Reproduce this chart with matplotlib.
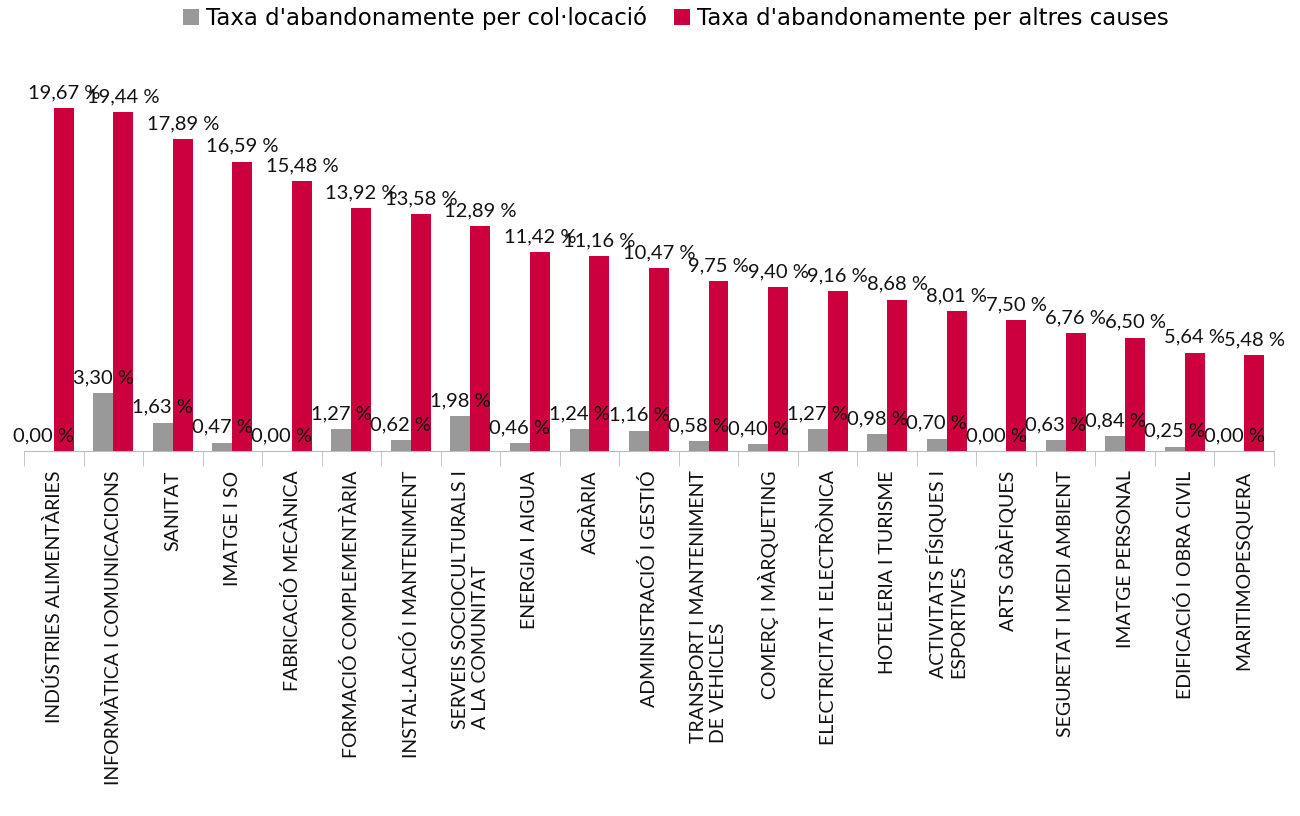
#-------------------------------------------------------------------------------
# Taxa d'abandonament per família professional - bar chart
#-------------------------------------------------------------------------------
import matplotlib
matplotlib.use("Agg")
import matplotlib.pyplot as plt
import numpy as np

#-------------------------------------------------------------------------------
# Data
#-------------------------------------------------------------------------------
families = [
    "INDÚSTRIES ALIMENTÀRIES",
    "INFORMÀTICA I COMUNICACIONS",
    "SANITAT",
    "IMATGE I SO",
    "FABRICACIÓ MECÀNICA",
    "FORMACIÓ COMPLEMENTÀRIA",
    "INSTAL·LACIÓ I MANTENIMENT",
    "SERVEIS SOCIOCULTURALS I\nA LA COMUNITAT",
    "ENERGIA I AIGUA",
    "AGRÀRIA",
    "ADMINISTRACIÓ I GESTIÓ",
    "TRANSPORT I MANTENIMENT\nDE VEHICLES",
    "COMERÇ I MÀRQUETING",
    "ELECTRICITAT I ELECTRÒNICA",
    "HOTELERIA I TURISME",
    "ACTIVITATS FÍSIQUES I\nESPORTIVES",
    "ARTS GRÀFIQUES",
    "SEGURETAT I MEDI AMBIENT",
    "IMATGE PERSONAL",
    "EDIFICACIÓ I OBRA CIVIL",
    "MARITIMOPESQUERA",
]
colocacio = [0.00, 3.30, 1.63, 0.47, 0.00, 1.27, 0.62, 1.98, 0.46, 1.24, 1.16,
             0.58, 0.40, 1.27, 0.98, 0.70, 0.00, 0.63, 0.84, 0.25, 0.00]
altres = [19.67, 19.44, 17.89, 16.59, 15.48, 13.92, 13.58, 12.89, 11.42, 11.16,
          10.47, 9.75, 9.40, 9.16, 8.68, 8.01, 7.50, 6.76, 6.50, 5.64, 5.48]
series_names = ["Taxa d'abandonamente per col·locació",
                "Taxa d'abandonamente per altres causes"]

GREY = "#999999"
RED = "#cc003d"

#-------------------------------------------------------------------------------
# Figure
#-------------------------------------------------------------------------------
fig = plt.figure(figsize=(13, 8.16), dpi=100)
ax = fig.add_axes([24 / 1300, 365 / 816, 1250 / 1300, 421 / 816])

x = np.arange(len(families))
w = 0.335
b1 = ax.bar(x - w / 2, colocacio, w, color=GREY, label=series_names[0])
b2 = ax.bar(x + w / 2, altres, w, color=RED, label=series_names[1])

def fmt(v):
    return ("%.2f %%" % v).replace(".", ",")

# data labels above every bar
for bars, vals in ((b1, colocacio), (b2, altres)):
    for rect, v in zip(bars, vals):
        ax.annotate(fmt(v), (rect.get_x() + rect.get_width() / 2, v),
                    xytext=(0, 5), textcoords="offset points",
                    ha="center", va="bottom", fontsize=14.5, family="Lato",
                    color="#111111")

ax.set_xlim(-0.5, len(families) - 0.5)
ax.set_ylim(0, 24.14)

# category labels
ax.set_xticks(x)
ax.set_xticklabels(families, rotation=90, fontsize=14, family="Lato",
                   va="top", ha="center", multialignment="left",
                   color="#111111")
ax.tick_params(axis="x", which="major", length=0, pad=14)
ax.set_xticks(np.arange(-0.5, len(families), 1), minor=True)
ax.tick_params(axis="x", which="minor", length=11, color="#bbbbbb")
ax.set_yticks([])

for s in ["top", "right", "left"]:
    ax.spines[s].set_visible(False)
ax.spines["bottom"].set_color("#bbbbbb")

#-------------------------------------------------------------------------------
# Legend
#-------------------------------------------------------------------------------
fig.legend(loc="upper center", bbox_to_anchor=(0.52, 1.018), ncol=2,
           frameon=False, prop={"family": "Liberation Sans Narrow", "size": 16.5},
           handlelength=0.7, handleheight=0.7, handletextpad=0.3,
           columnspacing=1.2)

fig.savefig("out.png", dpi=100)
